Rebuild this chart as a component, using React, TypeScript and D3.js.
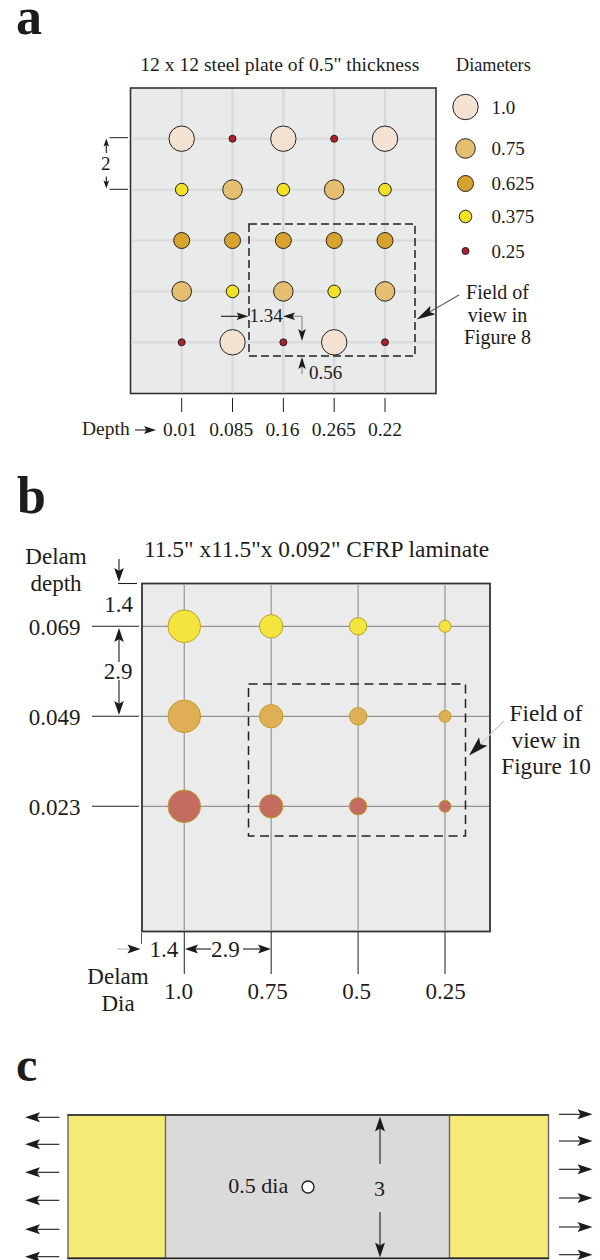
import * as d3 from "d3";

// panel a
const depthsA = ["0.01", "0.085", "0.16", "0.265", "0.22"];
const rowsA = ["r1", "r2", "r3", "r4", "r5"];
const platesA = [
  [1.0, 0.25, 1.0, 0.25, 1.0],
  [0.375, 0.75, 0.375, 0.75, 0.375],
  [0.625, 0.625, 0.625, 0.625, 0.625],
  [0.75, 0.375, 0.75, 0.375, 0.75],
  [0.25, 1.0, 0.25, 1.0, 0.25],
];
const legendDiameters = [1.0, 0.75, 0.625, 0.375, 0.25];
const legendLabels = ["1.0", "0.75", "0.625", "0.375", "0.25"];

// panel b
const diasB = ["1.0", "0.75", "0.5", "0.25"];
const depthsB = ["0.069", "0.049", "0.023"];

// panel c
const loadRowsLeft = ["l1", "l2", "l3", "l4", "l5", "l6"];
const loadRowsRight = ["r1", "r2", "r3", "r4", "r5", "r6"];

const SERIF = "'Liberation Serif', serif";
const INK = "#1c1c1c";

const xA = d3.scalePoint().domain(depthsA).range([181.7, 385]);
const xALabel = d3.scalePoint().domain(depthsA).range([180, 385]);
const yA = d3.scalePoint().domain(rowsA).range([138.7, 342.3]);
const rA = d3.scaleOrdinal<number, number>().domain(legendDiameters).range([12.7, 9.8, 8, 6.3, 3.5]);
const fillA = d3
  .scaleOrdinal<number, string>()
  .domain(legendDiameters)
  .range(["#f3e2d2", "#e5bf6f", "#d8a22f", "#f2e124", "#b01f2a"]);
const legendY = d3.scaleOrdinal<number, number>().domain(legendDiameters).range([107, 148.5, 183.5, 216.5, 251]);

const xB = d3.scalePoint().domain(diasB).range([184.3, 445]);
const xBLabel = d3.scalePoint().domain(diasB).range([178.5, 445.5]);
const yB = d3.scalePoint().domain(depthsB).range([626.3, 806.3]);
const rB = d3.scaleOrdinal<string, number>().domain(diasB).range([16.3, 11.7, 8.7, 6]);
const fillB = d3.scaleOrdinal<string, string>().domain(depthsB).range(["#f3e53d", "#e0ae55", "#c46c5f"]);

const yLeft = d3.scaleOrdinal<string, number>().domain(loadRowsLeft).range([1117.3, 1144.3, 1172.3, 1200.3, 1229.3, 1256.7]);
const yRight = d3.scaleOrdinal<string, number>().domain(loadRowsRight).range([1114.3, 1141, 1169.3, 1198, 1227, 1254.7]);

function Arrow({ x1, y1, x2, y2, len = 13, wid = 4.5, color = INK, sw = 1.1 }: any) {
  const a = Math.atan2(y2 - y1, x2 - x1);
  const c = Math.cos(a);
  const s = Math.sin(a);
  const p = d3.path();
  p.moveTo(x2, y2);
  p.lineTo(x2 - len * c + wid * s, y2 - len * s - wid * c);
  p.lineTo(x2 - len * 0.8 * c, y2 - len * 0.8 * s);
  p.lineTo(x2 - len * c - wid * s, y2 - len * s + wid * c);
  p.closePath();
  return (
    <g>
      <line x1={x1} y1={y1} x2={x2 - len * 0.75 * c} y2={y2 - len * 0.75 * s} stroke={color} strokeWidth={sw} />
      <path d={p.toString()} fill={INK} />
    </g>
  );
}

function Txt({ x, y, size, anchor = "start", weight, family = SERIF, children }: any) {
  return (
    <text x={x} y={y} fontSize={size} textAnchor={anchor} fontWeight={weight} fontFamily={family} fill={INK}>
      {children}
    </text>
  );
}

function PanelA() {
  return (
    <g>
      <Txt x={16} y={34} size={52} weight="bold">a</Txt>
      <Txt x={140.3} y={71} size={19.6}>12 x 12 steel plate of 0.5" thickness</Txt>
      <Txt x={456} y={71} size={18.2}>Diameters</Txt>

      <rect x={130.5} y={88} width={305.5} height={305.5} fill="#e9eaea" stroke="#333" strokeWidth={1.6} />
      {depthsA.map((d) => (
        <line key={d} x1={xA(d)} x2={xA(d)} y1={89} y2={392.5} stroke="#d9d9d9" strokeWidth={2.4} />
      ))}
      {rowsA.map((r) => (
        <line key={r} x1={131.5} x2={435} y1={yA(r)} y2={yA(r)} stroke="#dcdcdc" strokeWidth={2.4} />
      ))}
      {platesA.map((row, i) =>
        row.map((dia, j) => (
          <circle
            key={`${i}-${j}`}
            cx={xA(depthsA[j])}
            cy={yA(rowsA[i])}
            r={rA(dia)}
            fill={fillA(dia)}
            stroke="#222"
            strokeWidth={1}
          />
        ))
      )}

      {legendDiameters.map((dia, i) => (
        <g key={dia}>
          <circle cx={465.5} cy={legendY(dia)} r={rA(dia)} fill={fillA(dia)} stroke="#222" strokeWidth={1} />
          <Txt x={491.5} y={legendY(dia) + 6.5} size={19}>{legendLabels[i]}</Txt>
        </g>
      ))}

      <rect x={249} y={224} width={166} height={132} fill="none" stroke="#222" strokeWidth={1.5} strokeDasharray="8 4" />

      {/* row pitch */}
      <line x1={109.5} x2={128} y1={137.7} y2={137.7} stroke={INK} />
      <line x1={109.5} x2={128} y1={189.3} y2={189.3} stroke={INK} />
      <Arrow x1={106.3} y1={153} x2={106.3} y2={138.5} len={8} wid={2.8} />
      <Arrow x1={106.3} y1={176.5} x2={106.3} y2={188.5} len={8} wid={2.8} />
      <Txt x={105.7} y={170} size={19} anchor="middle">2</Txt>

      {/* offsets */}
      <Arrow x1={221} y1={316.3} x2={248.5} y2={316.3} len={12} wid={3.8} />
      <Txt x={249.5} y={322} size={19}>1.34</Txt>
      <Arrow x1={302} y1={316.3} x2={283} y2={316.3} len={12} wid={3.8} color="#888" />
      <Arrow x1={302} y1={316.3} x2={302} y2={341} len={12} wid={3.8} color="#888" />
      <Arrow x1={302} y1={374} x2={302} y2={357} len={12} wid={3.8} color="#888" />
      <Txt x={309} y={379} size={19}>0.56</Txt>

      {/* field of view */}
      <Txt x={497.5} y={299} size={20} anchor="middle">Field of</Txt>
      <Txt x={497.5} y={321.5} size={20} anchor="middle">view in</Txt>
      <Txt x={497.5} y={344} size={20} anchor="middle">Figure 8</Txt>
      <Arrow x1={459} y1={295} x2={416.5} y2={319.5} len={19} wid={5} color="#555" />

      {/* depth axis */}
      {depthsA.map((d) => (
        <g key={d}>
          <line x1={xA(d)} x2={xA(d)} y1={398} y2={412} stroke={INK} />
          <Txt x={xALabel(d)} y={436} size={19.5} anchor="middle">{d}</Txt>
        </g>
      ))}
      <Txt x={82} y={435} size={19.5}>Depth</Txt>
      <Arrow x1={135} y1={430} x2={156} y2={430} len={12} wid={4} />
    </g>
  );
}

function PanelB() {
  return (
    <g>
      <Txt x={17} y={512.5} size={52} weight="bold">b</Txt>
      <Txt x={144} y={557} size={23.4}>11.5" x11.5"x 0.092" CFRP laminate</Txt>
      <Txt x={56} y={564} size={23} anchor="middle">Delam</Txt>
      <Txt x={56} y={590.5} size={23} anchor="middle">depth</Txt>

      <rect x={142} y={583.5} width={348} height={348} fill="#ebebeb" stroke="#333" strokeWidth={1.8} />

      {diasB.map((d) => (
        <g key={d}>
          <line x1={xB(d)} x2={xB(d)} y1={584} y2={931} stroke="#a3a3a3" strokeWidth={1.4} />
          <line x1={xB(d)} x2={xB(d)} y1={932} y2={974} stroke="#333" strokeWidth={1.1} />
          <Txt x={xBLabel(d)} y={999} size={23} anchor="middle">{d}</Txt>
        </g>
      ))}
      {depthsB.map((d) => (
        <g key={d}>
          <line x1={143} x2={489} y1={yB(d)} y2={yB(d)} stroke="#929292" strokeWidth={1.2} />
          <line x1={92} x2={139} y1={yB(d)} y2={yB(d)} stroke="#222" strokeWidth={1.1} />
          <Txt x={80.5} y={yB(d) + 9} size={23} anchor="end">{d}</Txt>
        </g>
      ))}
      {depthsB.map((depth) =>
        diasB.map((dia) => (
          <circle
            key={`${depth}-${dia}`}
            cx={xB(dia)}
            cy={yB(depth)}
            r={rB(dia)}
            fill={fillB(depth)}
            stroke="#b9a12e"
            strokeWidth={1}
          />
        ))
      )}

      <rect x={248.5} y={684} width={217} height={152} fill="none" stroke="#222" strokeWidth={1.5} strokeDasharray="9 5.5" />

      {/* left dimensions */}
      <Arrow x1={119} y1={559} x2={119} y2={582} len={14} wid={4.8} />
      <line x1={118} x2={137} y1={583.5} y2={583.5} stroke={INK} strokeWidth={1.1} />
      <Txt x={118.5} y={611.5} size={23} anchor="middle">1.4</Txt>
      <Arrow x1={119} y1={662} x2={119} y2={628} len={14} wid={4.8} />
      <Arrow x1={119} y1={680} x2={119} y2={715} len={14} wid={4.8} />
      <Txt x={118} y={679} size={23} anchor="middle">2.9</Txt>

      {/* bottom dimensions */}
      <line x1={141.5} x2={141.5} y1={933} y2={944} stroke="#555" />
      <Arrow x1={117} y1={949} x2={140.5} y2={949} len={13} wid={4.5} color="#bbb" />
      <Txt x={149.5} y={956.5} size={23}>1.4</Txt>
      <Arrow x1={211} y1={949} x2={185} y2={949} len={13} wid={4.5} />
      <Txt x={211} y={956.5} size={23}>2.9</Txt>
      <Arrow x1={243} y1={949} x2={271} y2={949} len={13} wid={4.5} />
      <Txt x={118} y={984} size={23} anchor="middle">Delam</Txt>
      <Txt x={118} y={1010.5} size={23} anchor="middle">Dia</Txt>

      {/* field of view */}
      <Txt x={546} y={720.5} size={23.2} anchor="middle">Field of</Txt>
      <Txt x={546} y={747.5} size={23.2} anchor="middle">view in</Txt>
      <Txt x={546} y={774} size={23.2} anchor="middle">Figure 10</Txt>
      <Arrow x1={504} y1={721} x2={469} y2={755.5} len={20} wid={6} color="#ccc" />
    </g>
  );
}

function PanelC() {
  return (
    <g>
      <Txt x={16} y={1081} size={48} weight="bold">c</Txt>
      <rect x={68} y={1115} width={480.5} height={143.3} fill="#dadada" />
      <rect x={68} y={1115} width={97.5} height={143.3} fill="#f5ea75" stroke="#666" strokeWidth={1.4} />
      <rect x={449.5} y={1115} width={99} height={143.3} fill="#f5ea75" stroke="#666" strokeWidth={1.4} />
      <line x1={67.5} x2={549} y1={1115} y2={1115} stroke="#444" strokeWidth={1.8} />
      <line x1={67.5} x2={549} y1={1258.3} y2={1258.3} stroke="#222" strokeWidth={1.8} />

      {loadRowsLeft.map((r) => (
        <Arrow key={r} x1={59.3} y1={yLeft(r)} x2={25} y2={yLeft(r)} len={15} wid={5} />
      ))}
      {loadRowsRight.map((r) => (
        <Arrow key={r} x1={559} y1={yRight(r)} x2={592.5} y2={yRight(r)} len={15} wid={5} />
      ))}

      <Txt x={228.3} y={1192.5} size={22}>0.5 dia</Txt>
      <circle cx={308} cy={1187} r={6} fill="#fff" stroke="#222" strokeWidth={1.4} />
      <Arrow x1={380} y1={1164} x2={380} y2={1116.5} len={15} wid={5} />
      <Arrow x1={380} y1={1212} x2={380} y2={1257.5} len={15} wid={5} />
      <Txt x={379.5} y={1196} size={22} anchor="middle">3</Txt>
    </g>
  );
}

export default function App() {
  return (
    <svg
      width={600}
      height={1260}
      viewBox="0 0 600 1260"
      style={{ position: "absolute", left: 0, top: 0, display: "block", background: "#fff" }}
    >
      <PanelA />
      <PanelB />
      <PanelC />
    </svg>
  );
}
